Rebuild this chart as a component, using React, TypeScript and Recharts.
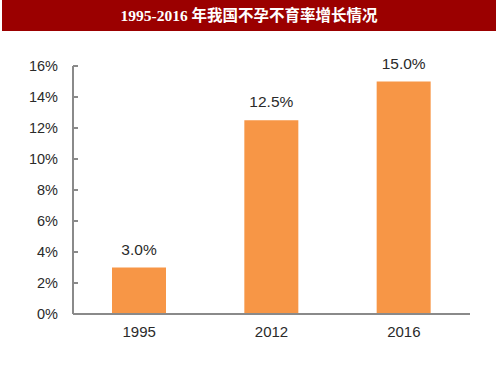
import React from 'react';
import { BarChart, Bar, XAxis, YAxis, LabelList } from 'recharts';

const years = ['1995', '2012', '2016'];
const infertilityRate = [3.0, 12.5, 15.0];
const yTicks = [0, 2, 4, 6, 8, 10, 12, 14, 16];
const title = '1995-2016 年我国不孕不育率增长情况';

const data = years.map((y, i) => ({ year: y, rate: infertilityRate[i] }));

const font = '"Liberation Sans", Arial, Helvetica, sans-serif';

export default function App() {
  return (
    <div style={{ position: 'absolute', left: 0, top: 0, width: 500, height: 375, background: '#fff' }}>
      <div
        style={{
          position: 'absolute',
          left: 2,
          top: 0,
          width: 494,
          height: 31,
          background: '#9B0000',
          color: '#fff',
          fontFamily: '"Liberation Serif", "Noto Sans CJK SC", serif',
          fontWeight: 'bold',
          fontSize: 15.5,
          lineHeight: '31px',
          textAlign: 'center',
          whiteSpace: 'pre',
        }}
      >
        {title}
      </div>
      <div style={{ position: 'absolute', left: 0, top: 0 }}>
        <BarChart
          width={500}
          height={375}
          data={data}
          margin={{ top: 66, right: 30, bottom: 31, left: 0 }}
        >
          <XAxis
            dataKey="year"
            height={30}
            axisLine={{ stroke: '#8a8a8a', strokeWidth: 2 }}
            tickLine={false}
            tickSize={0}
            tickMargin={12}
            tick={{ fill: '#2a2a2a', fontSize: 15, fontFamily: font }}
          />
          <YAxis
            width={73}
            domain={[0, 16]}
            ticks={yTicks}
            interval={0}
            tickFormatter={(v: number) => `${v}%`}
            axisLine={{ stroke: '#8a8a8a', strokeWidth: 2 }}
            tickLine={{ stroke: '#8a8a8a', strokeWidth: 2 }}
            tickSize={-5}
            tickMargin={20}
            tick={{ fill: '#2a2a2a', fontSize: 14.5, fontFamily: font }}
          />
          <Bar dataKey="rate" fill="#F79646" barSize={54} isAnimationActive={false}>
            <LabelList
              dataKey="rate"
              position="top"
              offset={13}
              formatter={(v: number) => `${v.toFixed(1)}%`}
              style={{ fill: '#2a2a2a', fontSize: 15.5, fontFamily: font }}
            />
          </Bar>
        </BarChart>
      </div>
    </div>
  );
}
